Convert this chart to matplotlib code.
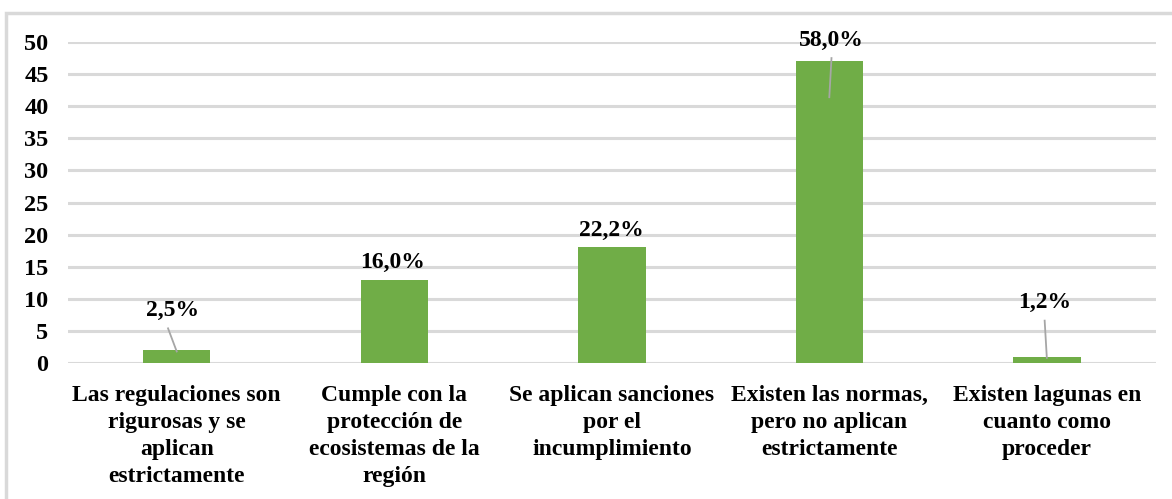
import matplotlib.pyplot as plt
from matplotlib.patches import Rectangle

# Categories and values
categories = [
    'Las regulaciones son\nrigurosas y se\naplican\nestrictamente',
    'Cumple con la\nprotección de\necosistemas de la\nregión',
    'Se aplican sanciones\npor el\nincumplimiento',
    'Existen las normas,\npero no aplican\nestrictamente',
    'Existen lagunas en\ncuanto como\nproceder',
]
counts = [2, 13, 18, 47, 1]
pct_labels = ['2,5%', '16,0%', '22,2%', '58,0%', '1,2%']

# where each percentage label sits (data coords) and where its leader line ends
label_pos = [(-0.02, 8.2), (-0.01, 15.7), (0.0, 20.6), (0.01, 50.3), (-0.01, 9.4)]
leader_end = [(0.0, 1.8), None, None, (0.0, 41.4), (0.0, 0.8)]

plt.rcParams['font.family'] = ['Liberation Serif', 'DejaVu Serif']
plt.rcParams['font.weight'] = 'bold'

fig = plt.figure(figsize=(11.72, 4.99), dpi=100)
ax = fig.add_axes([0.058, 0.2725, 0.928, 0.6433])

x = list(range(len(counts)))
ax.bar(x, counts, width=0.31, color='#70ad47', zorder=3)

ax.set_ylim(0, 50)
ax.set_xlim(-0.5, len(counts) - 0.5)
ax.set_yticks(range(0, 55, 5))
ax.yaxis.grid(True, color='#d9d9d9', lw=2.2, zorder=0)
ax.set_axisbelow(True)
for s in ax.spines.values():
    s.set_visible(False)
ax.tick_params(axis='both', length=0)
ax.tick_params(axis='y', pad=14, labelsize=17.5)
ax.tick_params(axis='x', pad=16)
ax.set_xticks(x)
ax.set_xticklabels(categories, fontsize=17, fontweight='bold', linespacing=1.38, va='top')
for t in ax.get_yticklabels():
    t.set_fontweight('bold')

for i, (lab, pos, end) in enumerate(zip(pct_labels, label_pos, leader_end)):
    tx, ty = i + pos[0], pos[1]
    ax.text(tx, ty, lab, ha='center', va='center', fontsize=17, fontweight='bold', zorder=5)
    if end is not None:
        ax.plot([tx - 0.02 if i == 0 else tx, i + end[0]], [ty - 2.8, end[1]],
                color='#a6a6a6', lw=1.3, zorder=4)

# light frame around the chart area
fig.patches.append(Rectangle((6 / 1172, -0.05), 1.2, 1 - 13 / 499 + 0.05,
                             transform=fig.transFigure, fill=False,
                             edgecolor='#d9d9d9', lw=2.5))

fig.savefig('out.png', dpi=100)
